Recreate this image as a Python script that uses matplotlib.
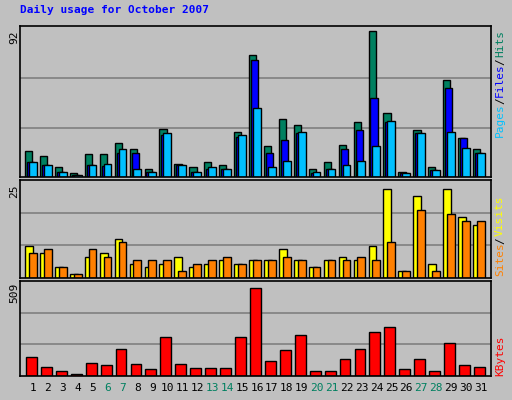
import numpy as np
import matplotlib.pyplot as plt

days = list(range(1, 32))
hits = [16, 13, 6.4, 2.7, 14.5, 14.5, 21, 17.5, 5, 30, 8.3, 6.4, 9.5, 7.6, 28, 76,
        19.4, 36, 32.4, 5, 9.5, 20, 34, 91, 40, 3.3, 29, 6.4, 60, 24, 17.5]
files = [9.5, 7.6, 3, 1.4, 7.6, 6.6, 15, 15, 3.3, 26.4, 7.6, 3.3, 4.7, 5, 25, 72.7,
         15, 23, 27.5, 2.7, 5, 17.5, 29, 49, 34, 2.7, 27.5, 4.5, 55, 24, 15]
pages = [9.5, 7.6, 3.3, 1.4, 7.6, 8.3, 17.5, 5, 3.3, 27.5, 7.6, 3.3, 6.4, 5, 26, 43,
         6.4, 10, 28, 3.3, 5, 7.6, 10, 19.4, 35, 2.7, 27.5, 4.5, 28, 18, 15]
visits = [9, 7, 3, 1, 6, 7, 11, 4, 3, 4, 6, 3, 4, 5, 4, 5, 5, 8, 5, 3, 5, 6, 5, 9,
          25, 2, 23, 4, 25, 17, 15]
sites = [7, 8, 3, 1, 8, 6, 10, 5, 5, 5, 2, 4, 5, 6, 4, 5, 5, 6, 5, 3, 5, 5, 6, 5,
         10, 2, 19, 2, 18, 16, 16]
kbytes = [111, 50, 28, 11, 78, 61, 156, 72, 39, 228, 67, 45, 45, 45, 228, 509,
          89, 150, 240, 28, 28, 100, 156, 256, 284, 39, 100, 28, 190, 61, 50]
weekends = [6, 7, 13, 14, 20, 21, 27, 28]

mono = 'DejaVu Sans Mono'
bg = '#c0c0c0'
W, H = 512, 400
fig = plt.figure(figsize=(W / 100, H / 100), dpi=100, facecolor=bg)

def ax_at(x0, y0, x1, y1):
    ax = fig.add_axes([x0 / W, 1 - y1 / H, (x1 - x0) / W, (y1 - y0) / H])
    ax.set_facecolor(bg)
    ax.set_xlim(0.13, 31.67)
    ax.set_xticks([])
    ax.set_yticks([])
    for s in ax.spines.values():
        s.set_color('black')
        s.set_linewidth(1.2)
    return ax

x = np.array(days)
ek = dict(edgecolor='black', linewidth=1, align='edge')

ax1 = ax_at(20, 26, 491, 177)
ax1.set_ylim(0, 92 * 1.02)
for g in (92 / 3, 92 * 2 / 3):
    ax1.axhline(g, color='#808080', lw=1.2, zorder=0)
ax1.bar(x - 0.53, hits, 0.48, color='#008060', **ek)
ax1.bar(x - 0.4, files, 0.48, color='#0000ff', **ek)
ax1.bar(x - 0.27, pages, 0.52, color='#00c0ff', **ek)

ax2 = ax_at(20, 180, 491, 278)
ax2.set_ylim(0, 25 * 1.1)
for g in (25 / 3 * 1.1, 25 * 2 / 3 * 1.1):
    ax2.axhline(g, color='#808080', lw=1.2, zorder=0)
ax2.bar(x - 0.53, visits, 0.52, color='#ffff00', **ek)
ax2.bar(x - 0.27, sites, 0.52, color='#ff8000', **ek)

ax3 = ax_at(20, 281, 491, 376)
ax3.set_ylim(0, 509 * 1.08)
for g in (509 * 1.08 / 3, 509 * 1.08 * 2 / 3):
    ax3.axhline(g, color='#808080', lw=1.2, zorder=0)
ax3.bar(x - 0.47, kbytes, 0.73, color='#ff0000', **ek)

for d in days:
    ax3.text(d, -0.07, str(d), transform=ax3.get_xaxis_transform(), ha='center',
             va='top', fontsize=8, family=mono,
             color='#008060' if d in weekends else 'black')

fig.text(20 / W, 1 - 10 / H, 'Daily usage for October 2007', color='#0000ff',
         fontsize=8, fontweight='bold', family=mono, va='center')

for y, lab in ((30, '92'), (184, '25'), (283, '509')):
    fig.text(14 / W, 1 - y / H, lab, rotation=90, fontsize=8, family=mono,
             ha='center', va='top')

def side(parts, ybot):
    y = ybot
    for txt, col in parts:
        fig.text(500 / W, 1 - y / H, txt, rotation=90, fontsize=8, family=mono,
                 color=col, ha='center', va='bottom')
        y -= len(txt) * 6.3 + 1

side([('Pages', '#00c0ff'), ('/', 'black'), ('Files', '#0000ff'),
      ('/', 'black'), ('Hits', '#008060')], 137)
side([('Sites', '#ff8000'), ('/', 'black'), ('Visits', '#ffff00')], 276)
side([('KBytes', '#ff0000')], 376)

fig.savefig('out.png', dpi=100, facecolor=bg)
